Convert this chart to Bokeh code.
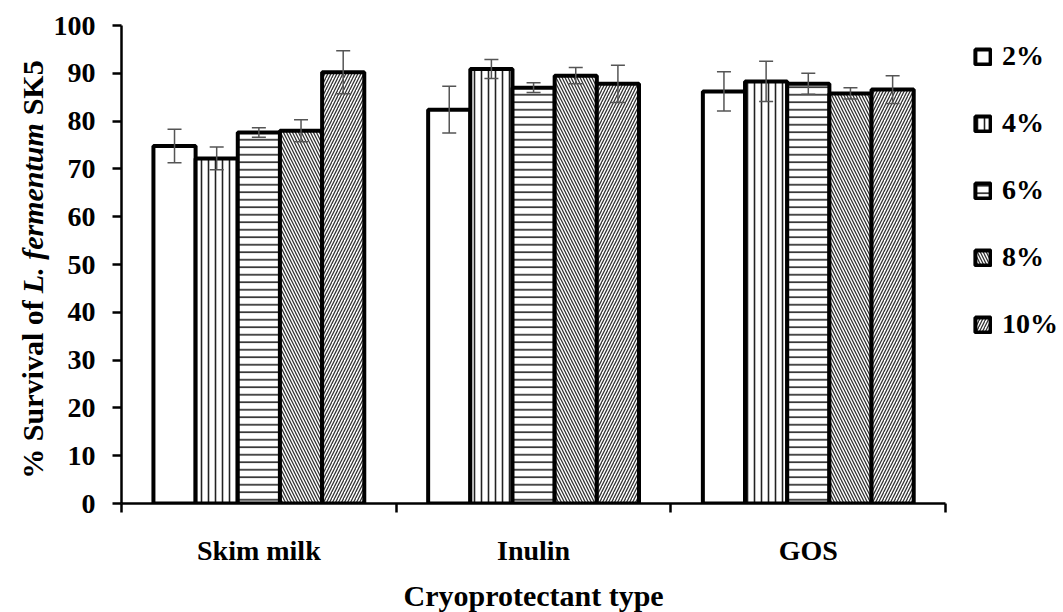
import math
from bokeh.plotting import figure
from bokeh.layouts import row, column
from bokeh.models import (ColumnDataSource, Whisker, FixedTicker, Legend, LegendItem,
                          Label, Range1d, TeeHead)
from bokeh.embed import file_html
from bokeh.resources import INLINE

# ---------------- data ----------------
categories = ["Skim milk", "Inulin", "GOS"]
concentrations = ["2%", "4%", "6%", "8%", "10%"]

surv_2 = [74.8, 82.4, 86.2]
surv_4 = [72.2, 90.9, 88.3]
surv_6 = [77.6, 87.0, 87.8]
surv_8 = [78.0, 89.5, 85.8]
surv_10 = [90.2, 87.8, 86.6]

err_2 = [3.5, 4.9, 4.1]
err_4 = [2.4, 2.0, 4.2]
err_6 = [1.0, 1.0, 2.2]
err_8 = [2.3, 1.7, 1.2]
err_10 = [4.5, 3.9, 2.9]

values = [surv_2, surv_4, surv_6, surv_8, surv_10]
errors = [err_2, err_4, err_6, err_8, err_10]

y_ticks = list(range(0, 101, 10))
x_title = "Cryoprotectant type"
y_title_parts = ["% Survival of", "L. fermentum", "SK5"]

# ---------------- styles ----------------
FONT = "Liberation Serif"
hatch_styles = [
    dict(hatch_pattern=None),
    dict(hatch_pattern="vertical_line", hatch_scale=7, hatch_weight=1.6, hatch_color="#222222"),
    dict(hatch_pattern="horizontal_line", hatch_scale=7.5, hatch_weight=1.6, hatch_color="#222222"),
    dict(hatch_pattern="left_diagonal_line", hatch_scale=6, hatch_weight=1.3, hatch_color="#333333"),
    dict(hatch_pattern="right_diagonal_line", hatch_scale=6, hatch_weight=1.3, hatch_color="#333333"),
]
bw = 0.1535
n_cat = len(categories)

TOTAL_W, TOTAL_H = 1063, 612
STRIP_W = 50          # left strip carrying the y-axis title
TOP, BOTTOM = 25, 109  # frame margins
TITLE_H = 34          # bottom strip carrying the x-axis title
MAIN_W = TOTAL_W - STRIP_W
MAIN_H = TOTAL_H - TITLE_H

y_range = Range1d(0, 100)
x_range = Range1d(0, 3.429)

# main plot: frame spans to the right edge so the legend can sit beside the bars
p = figure(width=MAIN_W, height=MAIN_H, x_range=x_range, y_range=y_range,
           output_backend="svg", toolbar_location=None,
           min_border_left=70, min_border_right=0, min_border_top=TOP,
           min_border_bottom=BOTTOM - TITLE_H)
p.outline_line_color = None
p.xgrid.visible = False
p.ygrid.visible = False
p.background_fill_color = "white"
p.border_fill_color = "white"

renderers = []
for i, (vals, errs) in enumerate(zip(values, errors)):
    xs = [c + 0.5 + (i - 2) * bw for c in range(n_cat)]
    src = ColumnDataSource(dict(
        x=xs, top=vals,
        upper=[v + e for v, e in zip(vals, errs)],
        lower=[v - e for v, e in zip(vals, errs)],
    ))
    r = p.vbar(x="x", top="top", bottom=0, width=bw, source=src,
               fill_color="white", line_color="black", line_width=4,
               **hatch_styles[i])
    renderers.append(r)
    w = Whisker(base="x", upper="upper", lower="lower", source=src, level="overlay",
                line_color="#555555", line_width=1.5,
                upper_head=TeeHead(size=14, line_color="#555555", line_width=1.5),
                lower_head=TeeHead(size=14, line_color="#555555", line_width=1.5))
    p.add_layout(w)

# x axis
xa = p.xaxis[0]
xa.bounds = (0, n_cat)
xa.ticker = FixedTicker(ticks=[c + 0.5 for c in range(n_cat)],
                        minor_ticks=list(range(n_cat + 1)))
xa.major_label_overrides = {c + 0.5: name for c, name in enumerate(categories)}
xa.major_tick_out = 0
xa.major_tick_in = 0
xa.minor_tick_out = 9
xa.minor_tick_in = 0
xa.minor_tick_line_width = 2.5
xa.minor_tick_line_color = "black"
xa.axis_line_width = 2.5
xa.axis_line_color = "black"
xa.major_label_text_font = FONT
xa.major_label_text_font_style = "bold"
xa.major_label_text_font_size = "28px"
xa.major_label_text_color = "black"
xa.major_label_standoff = 22

# y axis
ya = p.yaxis[0]
ya.ticker = FixedTicker(ticks=y_ticks)
ya.major_tick_out = 9
ya.major_tick_in = 0
ya.minor_tick_out = 0
ya.minor_tick_in = 0
ya.major_tick_line_width = 2.5
ya.major_tick_line_color = "black"
ya.axis_line_width = 2.5
ya.axis_line_color = "black"
ya.major_label_text_font = FONT
ya.major_label_text_font_style = "bold"
ya.major_label_text_font_size = "28px"
ya.major_label_text_color = "black"
ya.major_label_standoff = 17

# legend beside the bars
legend = Legend(items=[LegendItem(label=c, renderers=[r]) for c, r in zip(concentrations, renderers)],
                location=(852, 163), orientation="vertical",
                glyph_width=19, glyph_height=19, label_standoff=10, spacing=35,
                padding=0, margin=0, border_line_color=None, background_fill_alpha=0,
                label_text_font=FONT, label_text_font_style="bold", label_text_font_size="28px",
                label_text_color="black")
p.add_layout(legend, "center")


def blank_strip(width, height, xr, yr, **borders):
    f = figure(width=width, height=height, x_range=xr, y_range=yr,
               output_backend="svg", toolbar_location=None,
               x_axis_location=None, y_axis_location=None, **borders)
    f.outline_line_color = None
    f.xgrid.visible = False
    f.ygrid.visible = False
    f.border_fill_color = "white"
    return f


# narrow strip on the left holding the y-axis title (mixed roman / italic)
t = blank_strip(STRIP_W, TOTAL_H, Range1d(0, 1), y_range,
                min_border_left=0, min_border_right=0, min_border_top=TOP, min_border_bottom=BOTTOM)
title_styles = ["bold", "bold italic", "bold"]
title_starts = [5.2, 44.0, 81.2]
for txt, style, ypos in zip(y_title_parts, title_styles, title_starts):
    t.add_layout(Label(x=32, y=ypos, x_units="screen", y_units="data",
                       text=txt, angle=math.pi / 2,
                       text_font=FONT, text_font_style=style, text_font_size="30px",
                       text_color="black", text_align="left", text_baseline="middle"))

# strip below the plot holding the x-axis title, centred on the category axis
b = blank_strip(MAIN_W, TITLE_H, x_range, Range1d(0, 1),
                min_border_left=70, min_border_right=0, min_border_top=0, min_border_bottom=0)
b.add_layout(Label(x=n_cat / 2, y=0.5, x_units="data", y_units="data", text=x_title,
                   text_font=FONT, text_font_style="bold", text_font_size="30px",
                   text_color="black", text_align="center", text_baseline="middle"))

layout = row(t, column(p, b, spacing=0), spacing=0)
open("out.html", "w").write(file_html(layout, INLINE))
